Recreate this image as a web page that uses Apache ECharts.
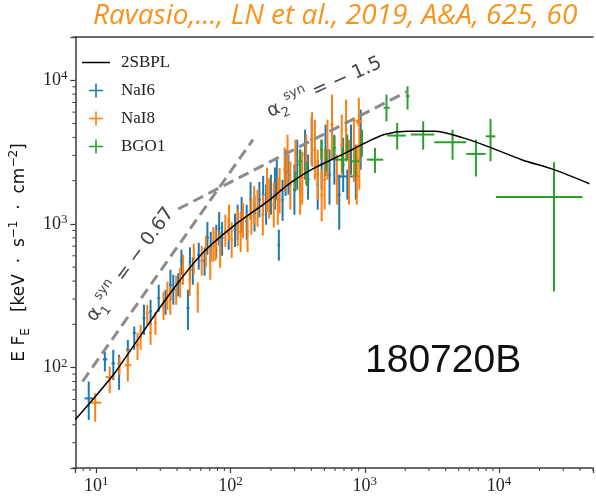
<!DOCTYPE html>
<html><head><meta charset="utf-8">
<script src="https://cdn.jsdelivr.net/npm/echarts@6/dist/echarts.min.js"></script>
<style>html,body{margin:0;padding:0;background:#fff}#c{width:596px;height:496px}</style>
</head><body><div id="c"></div>
<script>
// ---------------- data ----------------
const xMin = 7, xMax = 50000, yMin = 20, yMax = 20000;

// model 2SBPL
const modelE = [7, 10, 14, 33.5, 62, 108, 189, 279, 400, 720, 950, 1400, 2080, 3300, 5400, 8400, 14700, 25600, 47000];
const modelF = [43.5, 64, 94, 305, 627, 986, 1435, 1928, 2388, 3119, 3565, 4190, 4415, 4415, 3970, 3436, 2800, 2386, 1905];

// NaI6 (blue)
const nai6E   = [8.8,11.6,13.4,14.8,17.2,19.2,22.7,25.4,29.2,32.8,37.5,40.8,43.1,48.2,52.4,58.0,64.1,71.2,78.3,86.6,96.9,108,121,132,151,164,184,200,221,229,244,270,299,330,359,402,446,477,546,593,645,741,789,857,
                 35.7,49.9,67.3,82.3,113,141,175,214,257,314,378,510,690,932];
const nai6Elo = [8.2,11.2,13.0,14.4,16.7,18.7,22.1,24.8,28.5,32.0,36.6,39.8,42.1,47.0,51.2,56.6,62.6,69.5,76.5,84.6,94.7,105.5,118,129,148,160,180,196,216,224,239,264,292,322,350,392,435,466,533,579,630,610,770,837,
                 34.9,48.8,65.8,80.5,110.5,138,171,209,251,307,369,498,674,910];
const nai6Ehi = [9.55,12.1,13.8,15.2,17.7,19.7,23.3,26.0,29.9,33.6,38.4,41.8,44.1,49.4,53.6,59.4,65.6,72.9,80.1,88.6,99.1,110.5,124,135,154,168,188,204,226,234,249,276,306,338,368,412,457,488,559,607,660,902,808,877,
                 36.5,51.0,68.8,84.1,115.5,144,179,219,263,321,387,522,706,954];
const nai6F   = [61,114,107,107,133,174,221,246,305,296,348,397,548,260,480,610,555,700,776,800,860,911,1159,1045,1190,1475,1361,1597,2030,716,1475,2200,1731,2310,3035,3860,1876,2585,2200,2800,1597,2140,3290,2385,
                 377,545,800,930,1030,1475,1597,1804,2310,2585,2030,3290,2585,3860];
const nai6Flo = [43.2,94,82,70,107,133,169,198,245,233,274,313,443,183,377,480,436,555,580,600,661,690,870,776,885,1110,987,1159,1475,555,1050,1597,1159,1597,2030,2585,1256,1731,1361,1876,911,1475,2200,1475,
                 296,422,610,705,776,1070,1142,1256,1565,1731,1475,2158,1665,2385];
const nai6Fhi = [79.9,129,133,123,156,193,274,296,377,348,443,453,661,348,583,740,685,880,987,1030,1110,1180,1540,1361,1570,1960,1876,2200,2800,911,2030,3035,2585,3290,4530,5500,2800,3860,3290,4180,2200,2385,4910,3560,
                 480,687,1030,1210,1361,1953,2158,2470,3290,3860,3035,4910,3980,6250];

// NaI8 (orange)
const nai8E   = [9.83,12.6,14.9,17.2,20.3,21.4,24.0,25.4,27.6,31.7,35.6,39.4,44.3,49.7,57.0,61.0,65.5,70.7,77.4,83.7,91.5,102,113,124,134,143,159,174,194,210,232,253,279,304,330,366,405,446,477,527,570,620,673,763,829,910,
                 33.9,42.2,53.3,74.5,97.4,119,150,187,225,266,342,425,502,725,872];
const nai8Elo = [8.95,11.8,14.5,16.3,19.8,20.9,23.4,24.8,27.0,30.9,34.8,38.5,43.3,48.6,55.8,59.7,64.1,69.2,75.7,81.9,89.5,100,110.5,121,131,140,155,170,190,205,226,247,272,297,322,357,395,435,466,514,556,605,657,745,810,890,
                 33.1,41.2,52.1,72.8,95.2,116,147,183,220,260,334,415,490,708,852];
const nai8Ehi = [10.9,13.7,15.3,18.2,20.8,21.9,24.6,26.0,28.2,32.5,36.4,40.3,45.3,50.8,58.2,62.3,66.9,72.2,79.1,85.5,93.5,104,115.5,127,137,146,163,178,198,215,238,259,286,311,338,375,415,457,488,540,584,635,689,781,848,930,
                 34.7,43.2,54.5,76.2,99.6,122,153,191,230,272,350,435,514,742,892];
const nai8F   = [57,85.8,107,104,144,164,239,174,204,266,296,348,480,409,330,555,645,555,700,661,890,776,945,1070,880,1130,1290,1159,1520,1361,1731,2385,1876,2585,1731,2800,3860,2200,1597,3290,4910,2030,3560,2385,3290,2800,
                 321,389,580,740,1030,880,1361,1731,1475,2800,2100,3290,2030,4530,2200];
const nai8Flo = [42,66.4,89,80,113,133,198,144,169,215,233,274,377,315,241,436,500,409,555,495,690,580,700,800,636,841,955,830,1090,945,1180,1670,1256,1731,1159,1876,2490,1475,1040,2030,2800,1361,2200,1361,1960,1731,
                 252,306,450,545,776,637,987,1210,987,1876,1361,2030,1256,2710,1361];
const nai8Fhi = [66.4,101.6,119,133,175,198,274,205,245,337,360,436,610,520,392,705,830,716,911,880,1159,1030,1256,1400,1180,1520,1731,1597,2080,1935,2450,3400,2700,3860,2585,4180,6000,3290,2385,5320,7950,3035,5770,3860,5500,4700,
                 396,496,728,952,1361,1210,1840,2470,2100,4180,3190,5320,3290,7340,3560];
// NaI8 upper limit
const nai8UlE = [902];
const nai8UlF = [7540];

// BGO1 (green)
const bgoE   = [304,330,370,475,517,593,682,741,853,953,1190,1450,1741,2080,2720,4500,6720,8630,25600];
const bgoElo = [297,320,360,463,504,578,610,722,800,930,1035,1380,1472,2020,2200,3290,5680,7940,9480];
const bgoEhi = [311,340,380,487,530,608,760,760,910,980,1370,1530,2023,2150,3290,5680,7940,9380,41800];
const bgoF   = [1977,2730,2266,3290,2800,3380,2800,3465,2730,3660,2800,6430,4120,7750,4190,3700,3070,4070,1540];
const bgoFlo = [1680,2200,1838,2800,2312,2800,2275,2800,2133,2940,2265,5180,3290,6250,3290,2800,2140,2730,339];
const bgoFhi = [2312,3290,2670,3860,3290,4055,3395,4190,3290,4530,3380,7950,5050,9080,5180,4530,3860,5380,2690];

// dashed slope guides
const guide1E = [7.9, 147];   const guide1F = [80, 3860];
const guide2E = [40.8, 2080]; const guide2F = [1270, 8375];

// annotation anchors
const annE = [18, 500];
const annF = [520, 8900];

// ---------------- chart ----------------
const BLUE = '#1f77b4', ORANGE = '#ff7f0e', GREEN = '#2ca02c';
const AX = '#3a3a3a';
const zip = (a, b) => a.map((v, i) => [v, b[i]]);
const rows = (E, Elo, Ehi, F, Flo, Fhi) => E.map((v, i) => [v, Elo[i], Ehi[i], F[i], Flo[i], Fhi[i]]);

function errRender(color, lw) {
  return function (params, api) {
    const e = api.value(0), elo = api.value(1), ehi = api.value(2);
    const f = api.value(3), flo = api.value(4), fhi = api.value(5);
    const c = api.coord([e, f]), l = api.coord([elo, f]), r = api.coord([ehi, f]);
    const t = api.coord([e, fhi]), b = api.coord([e, flo]);
    return {
      type: 'group', children: [
        { type: 'line', shape: { x1: l[0], y1: c[1], x2: r[0], y2: c[1] }, style: { stroke: color, lineWidth: lw } },
        { type: 'line', shape: { x1: c[0], y1: t[1], x2: c[0], y2: b[1] }, style: { stroke: color, lineWidth: lw } }
      ]
    };
  };
}

const mult = [2, 3, 4, 5, 6, 7, 8, 9];
function minorTicks(params, api) {
  const ch = [];
  for (let d = 0; d <= 4; d++) {
    for (const m of mult) {
      const v = m * Math.pow(10, d);
      if (v >= xMin && v <= xMax) {
        const p = api.coord([v, yMin]);
        ch.push({ type: 'line', shape: { x1: p[0], y1: p[1], x2: p[0], y2: p[1] + 3 }, style: { stroke: AX, lineWidth: 1 } });
      }
      if (v >= yMin && v <= yMax) {
        const p = api.coord([xMin, v]);
        ch.push({ type: 'line', shape: { x1: p[0] - 3, y1: p[1], x2: p[0], y2: p[1] }, style: { stroke: AX, lineWidth: 1 } });
      }
    }
  }
  return { type: 'group', children: ch };
}

function ulRender(params, api) {
  const p = api.coord([api.value(0), api.value(1)]);
  const len = 29;
  return {
    type: 'group', children: [
      { type: 'line', shape: { x1: p[0], y1: p[1], x2: p[0], y2: p[1] + len }, style: { stroke: ORANGE, lineWidth: 2 } },
      { type: 'polygon', shape: { points: [[p[0] - 4, p[1] + len - 7], [p[0] + 4, p[1] + len - 7], [p[0], p[1] + len]] }, style: { fill: ORANGE } }
    ]
  };
}

const powLabel = (v) => {
  const l = Math.log10(v);
  const r = Math.round(l);
  if (Math.abs(l - r) > 1e-6) return '';
  return '{b|10}{s|' + r + '}';
};
const tickRich = {
  b: { fontFamily: 'Liberation Serif', fontSize: 18, color: '#222', lineHeight: 22 },
  s: { fontFamily: 'Liberation Serif', fontSize: 13, color: '#222', lineHeight: 12, verticalAlign: 'top' }
};

const plus = 'path://M0,6.2h14v1.6h-14z M6.2,0h1.6v14h-1.6z';

const chart = echarts.init(document.getElementById('c'), null, { renderer: 'canvas' });
chart.setOption({
  animation: false,
  backgroundColor: '#fff',
  title: [
    { text: 'Ravasio,..., LN et al., 2019, A&A, 625, 60', left: 93, top: 2, padding: 0,
      textStyle: { color: '#F7931E', fontStyle: 'italic', fontWeight: 'normal', fontSize: 28, fontFamily: 'Open Sans' } },
    { text: '180720B', left: 365, top: 342, padding: 0,
      textStyle: { color: '#111', fontWeight: 'normal', fontSize: 39, fontFamily: 'Liberation Sans' } }
  ],
  legend: {
    orient: 'vertical', left: 82, top: 54, itemWidth: 28, itemHeight: 14, itemGap: 11, padding: 0,
    selectedMode: false,
    textStyle: { fontFamily: 'Liberation Serif', fontSize: 17, color: '#222', padding: [0, 0, 0, 6] },
    data: [
      { name: '2SBPL', icon: 'path://M0,0H28V1.5H0Z' },
      { name: 'NaI6', icon: plus },
      { name: 'NaI8', icon: plus },
      { name: 'BGO1', icon: plus }
    ]
  },
  grid: { left: 69, top: 37, right: -5, bottom: 28 },
  xAxis: [
    { type: 'log', logBase: 10, min: xMin, max: xMax,
      axisLine: { lineStyle: { color: AX, width: 1.5 } },
      axisTick: { length: 5, lineStyle: { color: AX, width: 1.2 } },
      splitLine: { show: false },
      axisLabel: { margin: 7, formatter: powLabel, rich: tickRich } },
    { type: 'log', logBase: 10, min: xMin, max: xMax, position: 'top',
      axisLine: { lineStyle: { color: AX, width: 1.5 } },
      axisTick: { show: false }, axisLabel: { show: false }, splitLine: { show: false } }
  ],
  yAxis: [
    { type: 'log', logBase: 10, min: yMin, max: yMax,
      axisLine: { lineStyle: { color: AX, width: 1.5 } },
      axisTick: { length: 5, lineStyle: { color: AX, width: 1.2 } },
      splitLine: { show: false },
      axisLabel: { margin: 8, formatter: powLabel, rich: tickRich },
      name: '{n|E F}{sub|E}{n|   [keV  ·  s}{sup|−1}{n|  ·  cm}{sup|−2}{n|]}',
      nameLocation: 'middle', nameRotate: 90, nameGap: 31,
      nameTextStyle: {
        rich: {
          n: { fontFamily: 'DejaVu Sans', fontSize: 17, color: '#111', lineHeight: 24 },
          sub: { fontFamily: 'DejaVu Sans', fontSize: 12, color: '#111', lineHeight: 11, verticalAlign: 'bottom' },
          sup: { fontFamily: 'DejaVu Sans', fontSize: 12, color: '#111', lineHeight: 11, verticalAlign: 'top' }
        }
      } }
  ],
  series: [
    { type: 'custom', name: 'minor', silent: true, renderItem: minorTicks, data: [[10, 100]], z: 1, clip: false },
    { type: 'custom', name: 'NaI6', renderItem: errRender(BLUE, 2), itemStyle: { color: BLUE },
      data: rows(nai6E, nai6Elo, nai6Ehi, nai6F, nai6Flo, nai6Fhi), encode: { x: 0, y: 3 }, z: 2 },
    { type: 'custom', name: 'NaI8', renderItem: errRender(ORANGE, 2), itemStyle: { color: ORANGE },
      data: rows(nai8E, nai8Elo, nai8Ehi, nai8F, nai8Flo, nai8Fhi), encode: { x: 0, y: 3 }, z: 3 },
    { type: 'custom', name: 'NaI8 UL', renderItem: ulRender, data: zip(nai8UlE, nai8UlF), encode: { x: 0, y: 1 }, z: 3 },
    { type: 'custom', name: 'BGO1', renderItem: errRender(GREEN, 2), itemStyle: { color: GREEN },
      data: rows(bgoE, bgoElo, bgoEhi, bgoF, bgoFlo, bgoFhi), encode: { x: 0, y: 3 }, z: 4 },
    { type: 'line', name: 'guide1', data: zip(guide1E, guide1F), symbol: 'none', z: 5,
      lineStyle: { color: '#8c8c8c', width: 3, type: [11, 6] } },
    { type: 'line', name: 'guide2', data: zip(guide2E, guide2F), symbol: 'none', z: 5,
      lineStyle: { color: '#8c8c8c', width: 3, type: [11, 6] } },
    { type: 'line', name: '2SBPL', data: zip(modelE, modelF), symbol: 'none', smooth: 0.3, z: 6,
      itemStyle: { color: '#000' }, lineStyle: { color: '#000', width: 1.5 } },
    { type: 'scatter', name: 'ann', symbolSize: 0, z: 7, silent: true,
      data: [
        { value: [annE[0], annF[0]], label: { rotate: 54, formatter: '{a|α}{sub|1}{sup|syn}{a| = − 0.67}' } },
        { value: [annE[1], annF[1]], label: { rotate: 24, formatter: '{a|α}{sub|2}{sup|syn}{a| = − 1.5}' } }
      ],
      label: { show: true, position: 'inside',
        rich: {
          a: { fontFamily: 'DejaVu Sans', fontSize: 19, color: '#111', lineHeight: 28 },
          sub: { fontFamily: 'DejaVu Sans', fontSize: 13, color: '#111', lineHeight: 13, verticalAlign: 'bottom' },
          sup: { fontFamily: 'DejaVu Sans', fontSize: 13, color: '#111', lineHeight: 13, verticalAlign: 'top' }
        } } }
  ]
});
</script>
</body></html>
